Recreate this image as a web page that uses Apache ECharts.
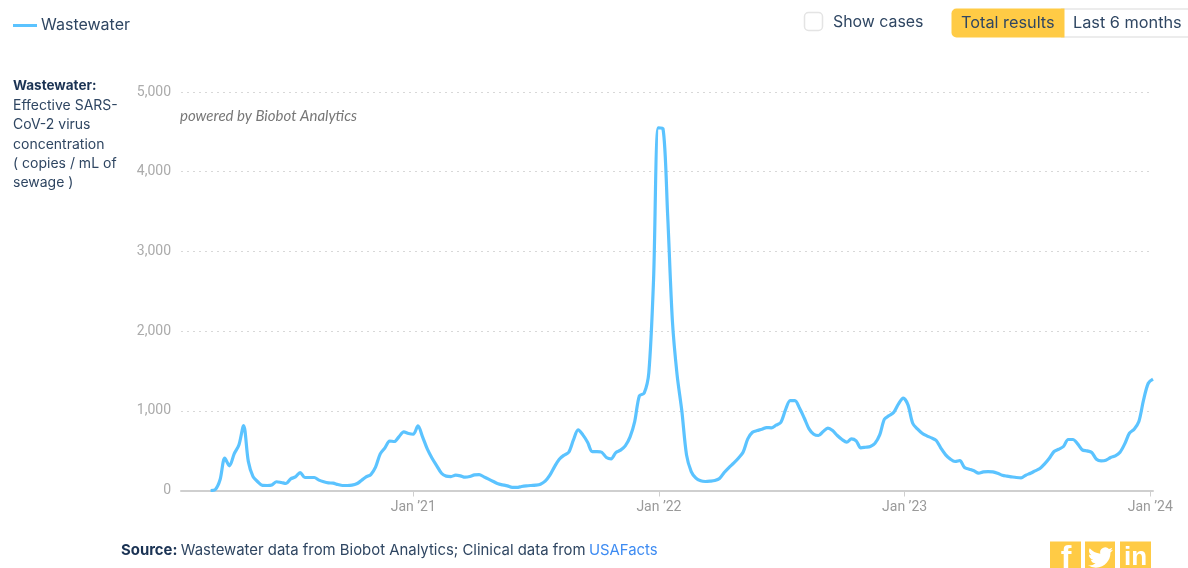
<!DOCTYPE html>
<html>
<head>
<meta charset="utf-8">
<style>html,body{margin:0;padding:0;background:#fff}#chart{width:1188px;height:568px}</style>
<script src="https://cdn.jsdelivr.net/npm/echarts@6/dist/echarts.min.js"></script>
</head>
<body>
<div id="chart"></div>
<script>
// Weekly wastewater readings, copies per mL of sewage
const firstReading = '2020-03-06';
const wastewater = [
  0, 12, 134, 405, 310, 460, 570, 815, 365, 175, 110, 65, 63, 70, 110, 100, 88, 146, 170, 225,
  163, 163, 163, 130, 110, 96, 92, 75, 63, 63, 67, 84, 125, 170, 200, 293, 460, 535, 620, 615,
  677, 735, 715, 706, 810, 670, 518, 405, 310, 217, 180, 175, 192, 184, 167, 175, 196, 200, 171, 142,
  113, 84, 71, 58, 38, 38, 50, 58, 63, 67, 79, 117, 192, 300, 393, 443, 480, 635, 760, 698,
  606, 489, 489, 480, 414, 397, 476, 506, 560, 669, 865, 1190, 1220, 1480, 2640, 4550, 4540, 3450, 2130, 1450,
  1000, 447, 238, 155, 121, 113, 117, 125, 150, 226, 288, 343, 405, 480, 648, 731, 752, 769, 790, 786,
  819, 853, 1011, 1128, 1128, 1032, 907, 773, 706, 690, 740, 782, 752, 690, 640, 606, 648, 623, 535, 543,
  552, 594, 698, 895, 940, 982, 1087, 1158, 1074, 844, 773, 719, 686, 660, 627, 530, 447, 393, 364, 376,
  288, 268, 247, 217, 234, 238, 234, 217, 192, 180, 171, 163, 159, 192, 217, 247, 276, 334, 405, 489,
  518, 552, 640, 640, 585, 510, 497, 476, 393, 372, 380, 414, 435, 480, 585, 719, 769, 865, 1137, 1346,
  1396
];
const yearTicks = ['2021-01-01', '2022-01-01', '2023-01-01', '2024-01-01'];
const yearLabels = ['Jan \u201921', 'Jan \u201922', 'Jan \u201923', 'Jan \u201924'];
const axisStart = '2020-01-22';
const axisEnd = '2024-01-05';
const yTicksMax = 5000;
const yStep = 1000;
const sideNote = ['Effective SARS-', 'CoV-2 virus', 'concentration', '( copies / mL of', 'sewage )'];

const DAY = 86400000;
const firstTime = Date.parse(firstReading);
const points = wastewater.map((v, i) => [firstTime + i * 7 * DAY, v]);
const tickTimes = yearTicks.map(d => Date.parse(d));

const ink = '#2f4662';
const navy = '#1b3354';
const yellow = '#ffcb45';
const uiFont = 'Inter, "Noto Sans", sans-serif';
const tickFont = 'Roboto, sans-serif';

function label(x, y, text, size, fill, weight, align) {
  return {
    type: 'text', silent: true,
    style: {
      x, y, text, fill,
      font: (weight || 'normal') + ' ' + size + 'px ' + uiFont,
      textAlign: align || 'left', textVerticalAlign: 'middle'
    }
  };
}

// Bird glyph for the middle share button
const twitterPath = 'M23.953 4.57a10 10 0 01-2.825.775 4.958 4.958 0 002.163-2.723c-.951.555-2.005.959-3.127 1.184a4.92 4.92 0 00-8.384 4.482C7.69 8.095 4.067 6.13 1.64 3.162a4.822 4.822 0 00-.666 2.475c0 1.71.87 3.213 2.188 4.096a4.904 4.904 0 01-2.228-.616v.06a4.923 4.923 0 003.946 4.827 4.996 4.996 0 01-2.212.085 4.936 4.936 0 004.604 3.417 9.867 9.867 0 01-6.102 2.105c-.39 0-.779-.023-1.17-.067a13.995 13.995 0 007.557 2.209c9.053 0 13.998-7.496 13.998-13.985 0-.21 0-.42-.015-.63A9.935 9.935 0 0024 4.59z';
const birdImage = 'data:image/svg+xml,' + encodeURIComponent(
  '<svg xmlns="http://www.w3.org/2000/svg" viewBox="0 0 24 24" width="24" height="24"><path fill="#fff" d="' + twitterPath + '"/></svg>'
);

const chart = echarts.init(document.getElementById('chart'), null, { renderer: 'canvas' });
chart.setOption({
  animation: false,
  backgroundColor: '#fff',
  textStyle: { fontFamily: uiFont },
  legend: {
    left: 13, top: 17.5, padding: 0, itemWidth: 24, itemHeight: 3, itemGap: 0,
    textStyle: { color: ink, fontSize: 16, fontFamily: uiFont, padding: [0, 0, 0, -1] },
    data: [{ name: 'Wastewater', icon: 'rect' }]
  },
  grid: { left: 181, right: 35, top: 92, bottom: 77.5 },
  xAxis: {
    type: 'value',
    min: Date.parse(axisStart),
    max: Date.parse(axisEnd),
    axisLine: { lineStyle: { color: '#cfcfcf', width: 2 } },
    axisTick: { show: true, length: 6, customValues: tickTimes, lineStyle: { color: '#cfcfcf', width: 1 } },
    splitLine: { show: false },
    axisLabel: {
      customValues: tickTimes,
      color: '#9a9a9a', fontSize: 14, margin: 10, fontFamily: tickFont,
      hideOverlap: false, showMinLabel: true, showMaxLabel: true,
      formatter: v => yearLabels[tickTimes.indexOf(v)] || ''
    }
  },
  yAxis: {
    type: 'value', min: 0, max: yTicksMax, interval: yStep,
    axisLine: { show: false }, axisTick: { show: false },
    splitLine: { lineStyle: { color: '#d8d8d8', type: [2, 4], width: 1 } },
    axisLabel: {
      color: '#ababab', fontSize: 14, margin: 10, fontFamily: tickFont,
      padding: [2, 0, 0, 0],
      formatter: v => v.toLocaleString('en-US')
    }
  },
  series: [{
    name: 'Wastewater', type: 'line', data: points,
    showSymbol: false, symbol: 'none',
    smooth: 0.3,
    itemStyle: { color: '#5bc3ff' },
    lineStyle: { color: '#5bc3ff', width: 3.2 }
  }],
  graphic: { elements: [
    // axis title on the left
    label(13, 86, 'Wastewater:', 13.5, navy, 'bold'),
    ...sideNote.map((t, i) => label(13, 105.5 + i * 19.4, t, 14, ink)),
    {
      type: 'text', silent: true,
      style: { x: 180, y: 116, text: 'powered by Biobot Analytics', fill: '#777',
        font: 'italic 15px Lato, sans-serif', textVerticalAlign: 'middle' }
    },
    // series toggle and range buttons
    { type: 'rect', silent: true,
      shape: { x: 804.5, y: 12.5, width: 18, height: 18, r: 4 },
      style: { fill: '#fff', stroke: '#e4e4e4', lineWidth: 1.5 } },
    label(833, 22, 'Show cases', 15.9, ink),
    { type: 'rect', silent: true,
      shape: { x: 1062, y: 9, width: 140, height: 28, r: 0 },
      style: { fill: '#fff', stroke: '#ececec', lineWidth: 2 } },
    { type: 'rect', silent: true,
      shape: { x: 951.5, y: 8.5, width: 113, height: 29, r: [5, 0, 0, 5] },
      style: { fill: yellow } },
    label(961, 23, 'Total results', 16.3, ink),
    label(1073, 23, 'Last 6 months', 16.3, ink),
    // attribution line
    {
      type: 'text', silent: true,
      style: {
        x: 121, y: 551, textVerticalAlign: 'middle',
        text: '{b|Source:} {n|Wastewater data from Biobot Analytics; Clinical data from} {l|USAFacts}',
        rich: {
          b: { font: 'bold 14.9px ' + uiFont, fill: navy },
          n: { font: 'normal 14.9px ' + uiFont, fill: ink },
          l: { font: 'normal 14.9px ' + uiFont, fill: '#3d8bf2' }
        }
      }
    },
    // share icons
    { type: 'rect', silent: true, shape: { x: 1050, y: 541.5, width: 31, height: 30 }, style: { fill: yellow } },
    { type: 'rect', silent: true, shape: { x: 1085, y: 541.5, width: 30, height: 30 }, style: { fill: yellow } },
    { type: 'rect', silent: true, shape: { x: 1120, y: 541.5, width: 31, height: 30 }, style: { fill: yellow } },
    {
      type: 'text', silent: true,
      style: { x: 1066, y: 559, text: 'f', fill: '#fff', font: 'bold 32px "Liberation Sans", sans-serif',
        textAlign: 'center', textVerticalAlign: 'middle' }
    },
    {
      type: 'image', silent: true,
      style: { image: birdImage, x: 1088, y: 545, width: 25, height: 25 }
    },
    {
      type: 'text', silent: true,
      style: { x: 1135.5, y: 558, text: 'in', fill: '#fff', font: 'bold 26px "Liberation Sans", sans-serif',
        textAlign: 'center', textVerticalAlign: 'middle' }
    }
  ] }
});
</script>
</body>
</html>
